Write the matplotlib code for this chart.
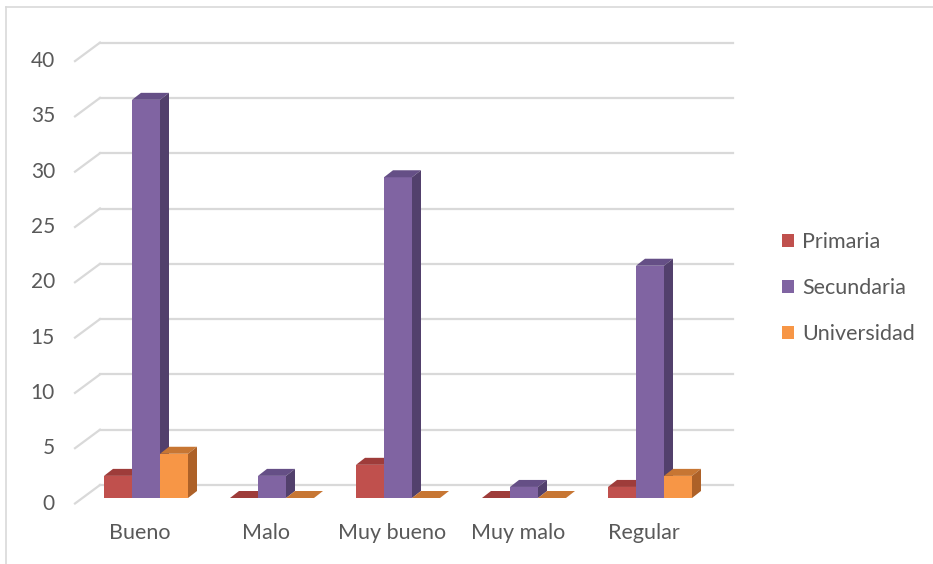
import numpy as np
import matplotlib
matplotlib.use("Agg")
import matplotlib.pyplot as plt
from matplotlib.patches import Polygon, Patch
from matplotlib.lines import Line2D

plt.rcParams['font.family'] = ['Lato', 'DejaVu Sans']

categories = ["Bueno", "Malo", "Muy bueno", "Muy malo", "Regular"]
series = ["Primaria", "Secundaria", "Universidad"]
primaria = [2, 0, 3, 0, 1]
secundaria = [36, 2, 29, 1, 21]
universidad = [4, 0, 0, 0, 2]
yticks = [0, 5, 10, 15, 20, 25, 30, 35, 40]

# front / top / side colours of each series
front_cols = ["#c0504d", "#8064a2", "#f79646"]
top_cols = ["#9e3c3a", "#654f86", "#c77633"]
side_cols = ["#8a3432", "#52406c", "#ad6128"]
grid_col = "#d9d9d9"
text_col = "#595959"

W, H = 933, 564
PX_X = 126.0     # pixels per category
PX_Y = 11.06     # pixels per value unit
X0, Y0 = 140.0, 498.0   # pixel of first category label centre / bar base


def px_x(p):
    return (p - X0) / PX_X


def px_y(p):
    return (Y0 - p) / PX_Y


fig = plt.figure(figsize=(W / 100, H / 100), dpi=100)
ax = fig.add_axes([0, 0, 1, 1])
ax.set_xlim(px_x(0), px_x(W))
ax.set_ylim(px_y(H), px_y(0))
ax.axis("off")

# outer frame (left and top edges)
ax.add_line(Line2D([px_x(6), px_x(6)], [px_y(H), px_y(7)], color=grid_col, lw=1.2))
ax.add_line(Line2D([px_x(6), px_x(W)], [px_y(7), px_y(7)], color=grid_col, lw=1.2))

# walls: back gridlines and side diagonals
front_dy = px_y(503.5)
back_dy = px_y(485)
x_front, x_back, x_right = px_x(75), px_x(100), px_x(733)
for v in yticks:
    ax.plot([x_back, x_right], [v + back_dy, v + back_dy], color=grid_col, lw=1.6, zorder=1)
    ax.plot([x_front, x_back], [v + front_dy, v + back_dy], color=grid_col, lw=1.6, zorder=1)
    ax.text(px_x(55), v + front_dy, str(v), ha="right", va="center",
            fontsize=15, color=text_col)

# bars
bw = 28 / PX_X
ddx = 9 / PX_X
ddy = 7 / PX_Y
data = [primaria, secundaria, universidad]
z = 2
for i, cat in enumerate(categories):
    for k in range(3):
        v = data[k][i]
        x0 = i - 36 / PX_X + k * bw
        ax.bar(x0, v, width=bw, align="edge", color=front_cols[k], zorder=z)
        top = Polygon([(x0, v), (x0 + bw, v), (x0 + bw + ddx, v + ddy), (x0 + ddx, v + ddy)],
                      closed=True, facecolor=top_cols[k], edgecolor="none", zorder=z)
        ax.add_patch(top)
        if v > 0:
            side = Polygon([(x0 + bw, 0), (x0 + bw + ddx, ddy), (x0 + bw + ddx, v + ddy), (x0 + bw, v)],
                           closed=True, facecolor=side_cols[k], edgecolor="none", zorder=z)
            ax.add_patch(side)
        z += 1
    ax.text(i, px_y(533), cat, ha="center", va="center", fontsize=15.5, color=text_col)

handles = [Patch(facecolor=c, edgecolor="none") for c in front_cols]
leg = ax.legend(handles, series, loc="center left", bbox_to_anchor=(782 / W, 1 - 288 / H),
                frameon=False, fontsize=15.5, labelspacing=1.2, handlelength=0.55,
                handleheight=0.55, handletextpad=0.4, borderaxespad=0, borderpad=0)
for t in leg.get_texts():
    t.set_color(text_col)

fig.savefig("out.png", dpi=100)
